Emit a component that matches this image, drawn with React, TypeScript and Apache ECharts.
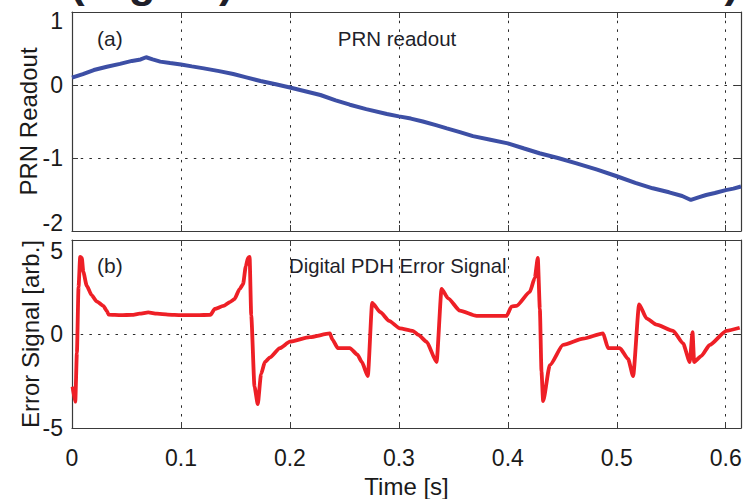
import React, { useEffect, useRef } from "react";
import * as echarts from "echarts";

// ---- data ----
const prnTime = [0.000, 0.010, 0.020, 0.032, 0.044, 0.055, 0.063, 0.068, 0.074, 0.081, 0.090, 0.100, 0.110, 0.121, 0.135, 0.148, 0.160, 0.173, 0.187, 0.200, 0.214, 0.228, 0.242, 0.255, 0.270, 0.289, 0.300, 0.311, 0.322, 0.334, 0.344, 0.356, 0.368, 0.384, 0.400, 0.415, 0.429, 0.446, 0.463, 0.482, 0.500, 0.517, 0.533, 0.548, 0.560, 0.568, 0.575, 0.582, 0.590, 0.600, 0.607, 0.614];
const prnValue = [0.10, 0.15, 0.205, 0.25, 0.29, 0.33, 0.35, 0.38, 0.35, 0.32, 0.30, 0.28, 0.255, 0.228, 0.19, 0.15, 0.105, 0.055, 0.01, -0.035, -0.085, -0.137, -0.21, -0.27, -0.33, -0.397, -0.43, -0.46, -0.50, -0.55, -0.594, -0.645, -0.70, -0.75, -0.80, -0.87, -0.935, -1.00, -1.073, -1.16, -1.25, -1.34, -1.415, -1.47, -1.52, -1.575, -1.54, -1.507, -1.48, -1.44, -1.42, -1.39];

const errTime = [0.0005, 0.003, 0.0045, 0.006, 0.0075, 0.009, 0.0104, 0.0135, 0.018, 0.0226, 0.0287, 0.0318, 0.0336, 0.045, 0.055, 0.062, 0.070, 0.078, 0.088, 0.100, 0.115, 0.127, 0.131, 0.139, 0.145, 0.149, 0.154, 0.157, 0.1595, 0.1615, 0.163, 0.1645, 0.1675, 0.1705, 0.1735, 0.177, 0.1817, 0.1908, 0.200, 0.2183, 0.2367, 0.239, 0.244, 0.255, 0.262, 0.266, 0.2715, 0.2755, 0.283, 0.291, 0.301, 0.3128, 0.318, 0.3254, 0.3346, 0.3392, 0.3452, 0.356, 0.3713, 0.3988, 0.4034, 0.408, 0.4202, 0.4248, 0.4275, 0.4294, 0.4309, 0.4324, 0.4385, 0.4507, 0.4691, 0.4874, 0.492, 0.5028, 0.5104, 0.515, 0.5205, 0.5273, 0.5364, 0.5517, 0.5608, 0.567, 0.5695, 0.571, 0.5777, 0.5853, 0.6006, 0.6128];
const errValue = [-2.8, -3.6, -1.0, 2.5, 4.1, 4.05, 3.3, 2.57, 2.07, 1.74, 1.5, 1.24, 1.03, 1.0, 1.02, 1.08, 1.15, 1.08, 1.03, 1.0, 1.0, 1.02, 1.33, 1.5, 1.7, 1.85, 2.4, 2.65, 3.6, 4.05, 4.1, 1.0, -2.8, -3.73, -2.14, -1.49, -1.24, -0.75, -0.41, -0.17, 0.03, -0.3, -0.75, -0.75, -1.1, -1.49, -2.24, 1.66, 1.16, 0.7, 0.3, 0.17, -0.05, -0.41, -1.49, 2.4, 1.9, 1.24, 0.96, 0.96, 1.46, 1.5, 2.24, 3.0, 4.05, 1.33, -2.0, -3.57, -1.66, -0.58, -0.25, 0.03, -0.75, -0.75, -1.33, -2.24, 1.58, 0.83, 0.5, 0.17, -0.5, -1.49, 0.1, -1.49, -1.16, -0.58, 0.17, 0.33];

const timeTickLabels = ["0", "0.1", "0.2", "0.3", "0.4", "0.5", "0.6"];
const prnTickLabels = ["-2", "-1", "0", "1"];
const errTickLabels = ["-5", "0", "5"];

const FONT = "Liberation Sans, Arial, Helvetica, sans-serif";
const AXIS_COLOR = "#3a3a3a";
const GRID_DASH = [2.5, 6.2];
const LABEL_SIZE = 23;
const NAME_SIZE = 24;

function App() {
  const ref = useRef<HTMLDivElement>(null);

  useEffect(() => {
    if (!ref.current) return;
    const chart = echarts.init(ref.current, undefined, { renderer: "svg" });

    const findLabel = (labels: string[], v: number) => labels.find((l) => Math.abs(parseFloat(l) - v) < 1e-6);

    const labelRich = {
      dn8: { fontFamily: FONT, fontSize: LABEL_SIZE, color: "#1a1a1a", padding: [17, 0, 0, 0] },
      dn10: { fontFamily: FONT, fontSize: LABEL_SIZE, color: "#1a1a1a", padding: [21, 0, 0, 0] },
      up8: { fontFamily: FONT, fontSize: LABEL_SIZE, color: "#1a1a1a", padding: [0, 0, 16, 0] },
    };

    const xBase = (grid: number, pos: "top" | "bottom", showLabel: boolean, split: boolean, name?: string) => ({
      type: "value",
      gridIndex: grid,
      position: pos,
      min: 0,
      max: 0.614,
      interval: 0.1,
      name: name,
      nameLocation: "middle",
      nameGap: 46,
      nameMoveOverlap: false,
      nameTextStyle: { fontFamily: FONT, fontSize: NAME_SIZE, color: "#1a1a1a" },
      axisLine: { show: true, onZero: false, lineStyle: { color: AXIS_COLOR, width: 1.2 } },
      axisTick: { show: true, inside: true, length: 6, lineStyle: { color: AXIS_COLOR } },
      axisLabel: {
        show: showLabel,
        showMaxLabel: false,
        margin: 18,
        fontFamily: FONT,
        fontSize: LABEL_SIZE,
        color: "#1a1a1a",
        formatter: (v: number) => findLabel(timeTickLabels, v) ?? "",
      },
      splitLine: { show: split, lineStyle: { color: "#2a2a2a", type: GRID_DASH, width: 1 } },
    });

    const yBase = (
      grid: number,
      pos: "left" | "right",
      min: number,
      max: number,
      interval: number,
      labels: string[],
      shifts: Record<string, string>,
      showLabel: boolean,
      split: boolean,
      name?: string,
      nameGap = 38
    ) => ({
      type: "value",
      gridIndex: grid,
      position: pos,
      min,
      max,
      interval,
      name,
      nameLocation: "middle",
      nameGap,
      nameMoveOverlap: false,
      nameTextStyle: { fontFamily: FONT, fontSize: NAME_SIZE, color: "#1a1a1a" },
      axisLine: { show: true, onZero: false, lineStyle: { color: AXIS_COLOR, width: 1.2 } },
      axisTick: { show: true, inside: true, length: 6, lineStyle: { color: AXIS_COLOR } },
      axisLabel: {
        show: showLabel,
        margin: 9,
        fontFamily: FONT,
        fontSize: LABEL_SIZE,
        color: "#1a1a1a",
        rich: labelRich,
        formatter: (v: number) => {
          const s = findLabel(labels, v);
          if (s === undefined) return "";
          const key = shifts[s];
          return key ? `{${key}|${s}}` : s;
        },
      },
      splitLine: { show: split, lineStyle: { color: "#2a2a2a", type: GRID_DASH, width: 1 } },
    });

    const textEl = (text: string, x: number, y: number, size: number, align: string, weight = "normal") => ({
      type: "text",
      x,
      y,
      silent: true,
      style: {
        text,
        fill: "#1f1f2a",
        font: `${weight} ${size}px ${FONT}`,
        align,
        verticalAlign: "middle",
        textAlign: align,
        textVerticalAlign: "middle",
      },
    });

    chart.setOption({
      animation: false,
      backgroundColor: "#ffffff",
      grid: [
        { left: 72, top: 12, width: 669, height: 219 },
        { left: 72, top: 240, width: 669, height: 201 },
      ],
      xAxis: [
        xBase(0, "bottom", false, true),
        xBase(0, "top", false, false),
        xBase(1, "bottom", true, true, "Time [s]"),
        xBase(1, "top", false, false),
      ],
      yAxis: [
        yBase(0, "left", -2, 1, 1, prnTickLabels, { "1": "dn8", "-2": "up8" }, true, true, "PRN Readout", 32),
        yBase(0, "right", -2, 1, 1, prnTickLabels, {}, false, false),
        yBase(1, "left", -5, 5, 5, errTickLabels, { "5": "dn10" }, true, true, "Error Signal [arb.]", 30),
        yBase(1, "right", -5, 5, 5, errTickLabels, {}, false, false),
      ],
      series: [
        {
          type: "line",
          xAxisIndex: 0,
          yAxisIndex: 0,
          data: prnTime.map((t, i) => [t, prnValue[i]]),
          showSymbol: false,
          lineStyle: { color: "#3d4fa5", width: 4 },
          z: 3,
        },
        {
          type: "line",
          xAxisIndex: 2,
          yAxisIndex: 2,
          data: errTime.map((t, i) => [t, errValue[i]]),
          showSymbol: false,
          smooth: 0.2,
          smoothMonotone: "x",
          lineStyle: { color: "#ee1f26", width: 3.8 },
          z: 3,
        },
      ],
      graphic: [
        textEl("(Digital) PDH Lock Test Results)", 70, -19, 44, "left", "bold"),
        textEl("(a)", 97, 38, 21, "left"),
        textEl("PRN readout", 397, 38, 20.5, "center"),
        textEl("(b)", 97, 265, 21, "left"),
        textEl("Digital PDH Error Signal", 289, 266, 20.3, "left"),
      ],
    });

    return () => chart.dispose();
  }, []);

  return (
    <div
      ref={ref}
      style={{ position: "fixed", left: 0, top: 0, width: 745, height: 499, background: "#fff" }}
    />
  );
}

export default App;
